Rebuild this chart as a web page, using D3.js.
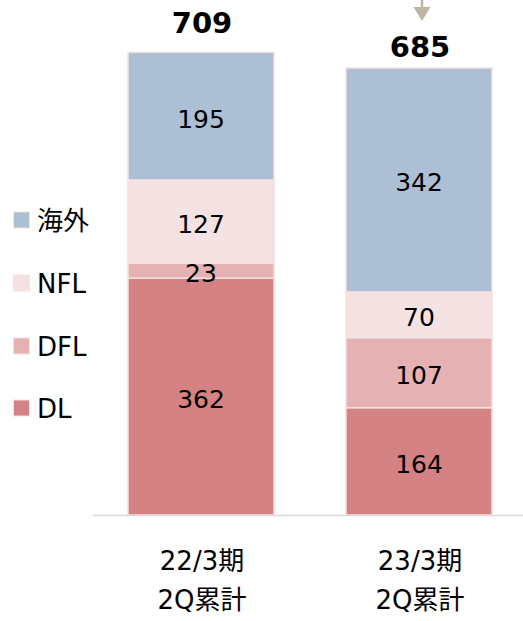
<!DOCTYPE html>
<html>
<head>
<meta charset="utf-8">
<script src="https://cdn.jsdelivr.net/npm/d3@7"></script>
<style>
  body { margin: 0; background: #fff; }
  text { font-family: "DejaVu Sans", "Noto Sans CJK JP", sans-serif; fill: #000; }
</style>
</head>
<body>
<svg width="523" height="621"></svg>
<script>
// data
const categories = [["22/3期", "2Q累計"], ["23/3期", "2Q累計"]];
const seriesNames = ["DL", "DFL", "NFL", "海外"];
const DL = [362, 164];
const DFL = [23, 107];
const NFL = [127, 70];
const overseas = [195, 342];
const totals = [709, 685];

const colors = ["#d48283", "#e6b1b3", "#f5e3e4", "#adbfd5"];

const svg = d3.select("svg");
const baseY = 515;

const x = d3.scaleBand()
  .domain(d3.range(categories.length))
  .range([128, 492])
  .paddingInner(72 / 218)
  .paddingOuter(0);
const bw = x.bandwidth();

const y = d3.scaleLinear().domain([0, 709]).range([baseY, 51]);

const rows = d3.range(categories.length).map(i => ({
  i, DL: DL[i], DFL: DFL[i], NFL: NFL[i], "海外": overseas[i]
}));
const stack = d3.stack().keys(seriesNames)(rows);

const g = svg.append("g");
g.selectAll("g.series")
  .data(stack)
  .enter()
  .append("g")
  .attr("class", "series")
  .attr("fill", (d, k) => colors[k])
  .selectAll("rect")
  .data(d => d)
  .enter()
  .append("rect")
  .attr("x", d => x(d.data.i))
  .attr("width", bw)
  .attr("y", d => y(d[1]))
  .attr("height", d => y(d[0]) - y(d[1]))
  .attr("stroke", "#f4e1e1")
  .attr("stroke-width", 1.5);

// segment labels
stack.forEach(s => {
  s.forEach(d => {
    g.append("text")
      .attr("x", x(d.data.i) + bw / 2)
      .attr("y", (y(d[0]) + y(d[1])) / 2 + 11.5)
      .attr("text-anchor", "middle")
      .attr("font-size", 25)
      .text(d[1] - d[0]);
  });
});

// axis line
svg.append("line")
  .attr("x1", 93).attr("x2", 523)
  .attr("y1", baseY + 0.5).attr("y2", baseY + 0.5)
  .attr("stroke", "#d9d9d9").attr("stroke-width", 1.5);

// totals
const totalGap = [18, 10];
totals.forEach((t, i) => {
  svg.append("text")
    .attr("x", x(i) + bw / 2 + 1)
    .attr("y", y(t) - totalGap[i])
    .attr("text-anchor", "middle")
    .attr("font-size", 29)
    .attr("font-weight", "bold")
    .text(t);
});

// category labels
categories.forEach((c, i) => {
  c.forEach((line, j) => {
    svg.append("text")
      .attr("x", x(i) + bw / 2 + 1)
      .attr("y", 570 + j * 39)
      .attr("text-anchor", "middle")
      .attr("font-size", 26)
      .text(line);
  });
});

// legend
const legendY = [220, 283, 346, 408];
const legendItems = seriesNames.map((n, k) => ({ n, k })).reverse();
legendItems.forEach((d, j) => {
  svg.append("rect")
    .attr("x", 13.5).attr("y", legendY[j] - 8)
    .attr("width", 16).attr("height", 16)
    .attr("fill", colors[d.k])
    .attr("stroke", "#f4e1e1").attr("stroke-width", 1);
  svg.append("text")
    .attr("x", 37).attr("y", legendY[j] + 9.5)
    .attr("font-size", 26)
    .text(d.n);
});

// arrow above the second bar
const ax = x(1) + bw / 2 + 3;
svg.append("line")
  .attr("x1", ax).attr("x2", ax)
  .attr("y1", 0).attr("y2", 10)
  .attr("stroke", "#bdb6a6").attr("stroke-width", 2.5);
svg.append("path")
  .attr("d", `M${ax - 8.5},7 L${ax + 8.5},7 L${ax},21 Z`)
  .attr("fill", "#bdb6a6");
</script>
</body>
</html>
